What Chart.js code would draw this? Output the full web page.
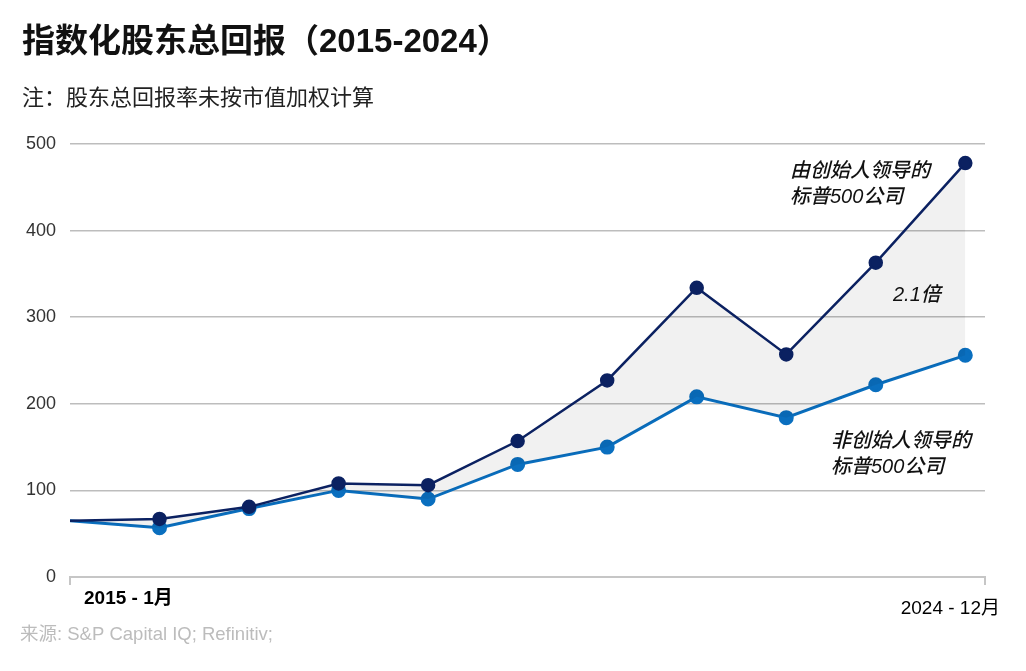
<!DOCTYPE html>
<html>
<head>
<meta charset="utf-8">
<script src="https://cdn.jsdelivr.net/npm/chart.js@4"></script>
<style>
  body { margin: 0; background: #fff; }
  canvas { display: block; }
</style>
</head>
<body>
<canvas id="tsrChart" width="1026" height="671"></canvas>
<script>
// 期间：2015年1月起，其后每年年末
var periods = ['2015-1月', '2015-12月', '2016-12月', '2017-12月', '2018-12月', '2019-12月',
               '2020-12月', '2021-12月', '2022-12月', '2023-12月', '2024-12月'];
var founderLed = [65, 67, 81, 108, 106, 157, 227, 334, 257, 363, 478];
var nonFounderLed = [65, 57, 79, 100, 90, 130, 150, 208, 184, 222, 256];
var yTicks = [0, 100, 200, 300, 400, 500];
var xStartLabel = '2015 - 1月';
var xEndLabel = '2024 - 12月';

// 拉丁字符用 Liberation Sans，中文回落到 Noto Sans CJK
var FONT = '"Liberation Sans", "Noto Sans CJK SC", sans-serif';

function toPoints(values) {
  return values.map(function(v, i) { return { x: i, y: v }; });
}

// 文字：标题、注释、来源、X轴端点标签
var textPlugin = {
  id: 'texts',
  afterDraw: function(chart) {
    var ctx = chart.ctx;
    ctx.save();
    ctx.textBaseline = 'middle';
    ctx.textAlign = 'left';

    ctx.fillStyle = '#111';
    ctx.font = 'bold 33px ' + FONT;
    ctx.fillText('指数化股东总回报（2015-2024）', 22, 43);

    ctx.fillStyle = '#222';
    ctx.font = '22px ' + FONT;
    ctx.fillText('注：股东总回报率未按市值加权计算', 22, 99);

    ctx.fillStyle = '#111';
    ctx.font = 'italic 500 20px ' + FONT;
    ctx.fillText('由创始人领导的', 790, 171);
    ctx.fillText('标普500公司', 790, 197);
    ctx.fillText('2.1倍', 893, 295);
    ctx.fillText('非创始人领导的', 831, 441);
    ctx.fillText('标普500公司', 831, 467);

    ctx.fillStyle = '#000';
    ctx.font = 'bold 19px ' + FONT;
    ctx.fillText(xStartLabel, 84, 599);
    ctx.textAlign = 'right';
    ctx.font = '19px ' + FONT;
    ctx.fillText(xEndLabel, 1000, 609);

    ctx.textAlign = 'left';
    ctx.fillStyle = '#bcbcbc';
    ctx.font = '18.5px ' + FONT;
    ctx.fillText('来源: S&P Capital IQ; Refinitiv;', 20, 635);
    ctx.restore();
  }
};

var ctx = document.getElementById('tsrChart').getContext('2d');
var chart = new Chart(ctx, {
  type: 'line',
  data: {
    datasets: [{
      label: '由创始人领导的标普500公司',
      data: toPoints(founderLed),
      borderColor: '#0b2161',
      backgroundColor: 'rgba(0,0,0,0.055)',
      pointBackgroundColor: '#0b2161',
      pointBorderColor: '#0b2161',
      borderWidth: 2.5,
      pointRadius: founderLed.map(function(v, i) { return i === 0 ? 0 : 6; }),
      tension: 0,
      fill: '+1'
    }, {
      label: '非创始人领导的标普500公司',
      data: toPoints(nonFounderLed),
      borderColor: '#0a6fbf',
      pointBackgroundColor: '#0a6fbf',
      pointBorderColor: '#0a6fbf',
      borderWidth: 3,
      pointRadius: nonFounderLed.map(function(v, i) { return i === 0 ? 0 : 6; }),
      tension: 0,
      fill: false
    }]
  },
  options: {
    responsive: false,
    animation: false,
    layout: { padding: { left: 0, top: 144, right: 41, bottom: 0 } },
    plugins: {
      legend: { display: false },
      tooltip: { enabled: false }
    },
    scales: {
      x: {
        type: 'linear',
        min: 0,
        max: 10.22,
        afterBuildTicks: function(scale) {
          scale.ticks = [{ value: 0 }, { value: 10.22 }];
        },
        afterFit: function(scale) { scale.height = 94; },
        ticks: { display: false },
        grid: { drawOnChartArea: false, drawTicks: true, tickLength: 8, color: '#c6c6c6', lineWidth: 2 },
        border: { display: true, color: '#c6c6c6', width: 2 }
      },
      y: {
        min: 0,
        max: 500,
        afterBuildTicks: function(scale) {
          scale.ticks = yTicks.map(function(v) { return { value: v }; });
        },
        afterFit: function(scale) { scale.width = 70; },
        ticks: {
          padding: 14,
          color: '#333',
          font: { family: '"Liberation Sans", Arial, sans-serif', size: 18 }
        },
        grid: { drawTicks: false, color: '#bdbdbd', lineWidth: 1.5 },
        border: { display: false }
      }
    }
  },
  plugins: [textPlugin]
});
</script>
</body>
</html>
